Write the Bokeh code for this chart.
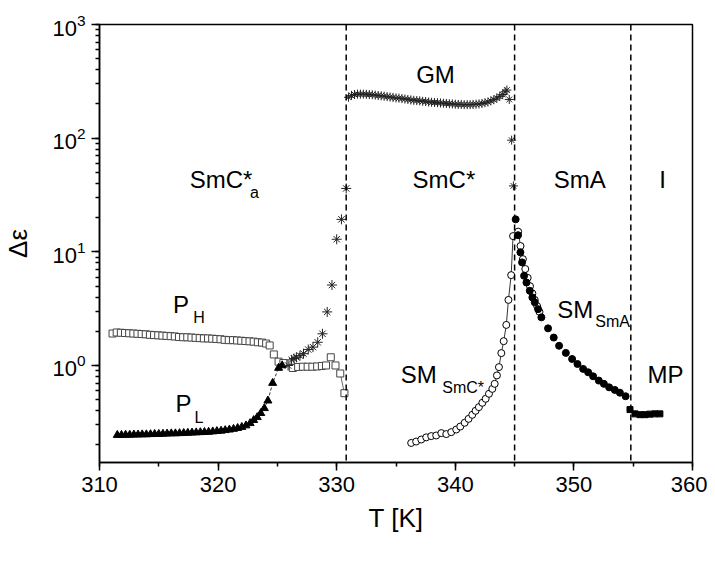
from bokeh.plotting import figure
from bokeh.models import Span, Label, SingleIntervalTicker, LogTicker
from bokeh.embed import file_html
from bokeh.resources import INLINE

# ---------------- data ----------------
# P_H mode (open squares)
ph_T = [311.1, 311.45, 311.8, 312.15, 312.5, 312.85, 313.2, 313.55, 313.9, 314.25,
        314.6, 314.95, 315.3, 315.65, 316.0, 316.35, 316.7, 317.05, 317.4, 317.75,
        318.1, 318.45, 318.8, 319.15, 319.5, 319.85, 320.2, 320.55, 320.9, 321.25,
        321.6, 321.95, 322.3, 322.65, 323.0, 323.35, 323.7, 324.05, 324.35,
        324.7, 325.1, 325.5, 326.3, 326.75, 327.15, 327.55, 327.95, 328.35, 328.75,
        329.1, 329.5, 329.9, 330.3, 330.65]
ph_v = [1.91, 1.95, 1.94, 1.93, 1.92, 1.91, 1.90, 1.89, 1.88, 1.86,
        1.85, 1.84, 1.83, 1.82, 1.81, 1.80, 1.78, 1.77, 1.77, 1.76,
        1.75, 1.74, 1.73, 1.73, 1.72, 1.71, 1.70, 1.68, 1.67, 1.67,
        1.66, 1.65, 1.64, 1.63, 1.62, 1.60, 1.59, 1.56, 1.50,
        1.25, 1.08, 1.05, 0.95, 0.97, 0.975, 0.975, 0.975, 0.98, 0.99,
        1.0, 1.18, 1.0, 0.85, 0.57]

# P_L mode (filled triangles)
pl_T = [311.5, 311.85, 312.2, 312.55, 312.9, 313.25, 313.6, 313.95, 314.3, 314.65,
        315.0, 315.35, 315.7, 316.05, 316.4, 316.75, 317.1, 317.45, 317.8, 318.15,
        318.5, 318.85, 319.2, 319.55, 319.9, 320.25, 320.6, 320.95, 321.3, 321.65,
        322.0, 322.35, 322.7, 323.0, 323.3, 323.6, 323.9, 324.2, 324.6, 325.1, 325.4]
pl_v = [0.244, 0.244, 0.245, 0.245, 0.246, 0.246, 0.247, 0.247, 0.248, 0.249,
        0.249, 0.250, 0.251, 0.252, 0.252, 0.253, 0.254, 0.255, 0.256, 0.257,
        0.258, 0.259, 0.260, 0.262, 0.264, 0.266, 0.269, 0.272, 0.276, 0.281,
        0.287, 0.296, 0.310, 0.330, 0.350, 0.380, 0.420, 0.490, 0.700, 0.950, 1.000]

# mode rising towards the SmC*a -> SmC* transition (stars)
sa_T = [325.9, 326.2, 326.4, 326.6, 326.9, 327.2, 327.6, 328.0, 328.4, 328.8,
        329.2, 329.6, 330.0, 330.4, 330.8]
sa_v = [1.00, 1.12, 1.15, 1.18, 1.22, 1.27, 1.38, 1.45, 1.60, 1.90,
        2.96, 5.1, 12.9, 19.3, 36.1]

# Goldstone mode in SmC* (stars)
gm_T = [331.0, 331.25, 331.5, 331.75, 332.0, 332.25, 332.5, 332.75, 333.0, 333.25,
        333.5, 333.75, 334.0, 334.25, 334.5, 334.75, 335.0, 335.25, 335.5, 335.75,
        336.0, 336.25, 336.5, 336.75, 337.0, 337.25, 337.5, 337.75, 338.0, 338.25,
        338.5, 338.75, 339.0, 339.25, 339.5, 339.75, 340.0, 340.25, 340.5, 340.75,
        341.0, 341.25, 341.5, 341.75, 342.0, 342.25, 342.5, 342.75, 343.0, 343.25,
        343.5, 343.75, 344.0, 344.2, 344.35, 344.55, 344.75, 344.9]
gm_v = [229, 238, 242, 244, 244, 244, 243, 242, 241, 239,
        237, 236, 234, 232, 230, 228, 226, 225, 223, 221,
        219, 217, 215, 214, 213, 211, 210, 208, 207, 206,
        205, 204, 203, 202, 201, 200, 199, 198, 198, 197,
        197, 197, 198, 199, 200, 202, 205, 208, 213, 218,
        225, 233, 242, 256, 265, 219, 96, 38]

# soft mode in SmC* (open circles)
sc_T = [336.28, 336.70, 337.13, 337.55, 337.97, 338.39, 338.82, 339.24, 339.66, 340.08,
        340.42, 340.79, 341.12, 341.43, 341.71, 341.99, 342.28, 342.56, 342.84, 343.12,
        343.32, 343.51, 343.68, 343.88, 344.08, 344.30, 344.48, 344.71, 344.87]
sc_v = [0.208, 0.214, 0.223, 0.233, 0.239, 0.242, 0.254, 0.249, 0.259, 0.273,
        0.290, 0.313, 0.339, 0.368, 0.399, 0.430, 0.469, 0.509, 0.563, 0.622,
        0.689, 0.817, 0.967, 1.284, 1.636, 2.273, 3.773, 6.234, 13.75]

# soft mode just above the transition, open-circle run (partly hidden)
sao_T = [345.3, 345.5, 345.7, 345.9, 346.1, 346.3, 346.5, 346.7, 346.9, 347.1]
sao_v = [15.05, 11.24, 8.62, 7.06, 5.90, 4.98, 4.30, 3.77, 3.33, 2.96]

# soft mode in SmA (filled circles)
sm_T = [345.09, 345.29, 345.49, 345.63, 345.80, 346.00, 346.28, 346.50, 346.70, 346.98,
        347.26, 347.82, 348.30, 348.75, 349.32, 349.85, 350.30, 350.78, 351.20, 351.62,
        352.10, 352.53, 352.97, 353.45, 353.88, 354.36]
sm_v = [19.3, 14.0, 9.89, 8.07, 6.15, 5.37, 4.54, 3.97, 3.59, 3.13,
        2.65, 2.12, 1.76, 1.49, 1.29, 1.14, 1.03, 0.933, 0.871, 0.803,
        0.736, 0.689, 0.642, 0.609, 0.576, 0.536]

# MP in isotropic phase (filled squares)
mp_T = [354.73, 355.15, 355.57, 355.99, 356.4, 356.83, 357.25]
mp_v = [0.409, 0.375, 0.369, 0.369, 0.373, 0.375, 0.375]

# phase transition temperatures
transitions = [330.8, 345.0, 354.8]

# ---------------- figure ----------------
FONT = "Liberation Sans"

p = figure(width=707, height=546, x_range=(310, 360), y_range=(0.14, 1000),
           y_axis_type="log", output_backend="svg", toolbar_location=None,
           min_border_left=98, min_border_right=15, min_border_top=24,
           min_border_bottom=84)

p.xgrid.visible = False
p.ygrid.visible = False
p.outline_line_color = "black"
p.outline_line_width = 1.5
p.outline_line_alpha = 1.0

p.xaxis.ticker = SingleIntervalTicker(interval=10, num_minor_ticks=2)
p.yaxis.ticker = LogTicker(num_minor_ticks=10)

for ax in (p.xaxis[0], p.yaxis[0]):
    ax.axis_line_width = 1.5
    ax.axis_line_color = "black"
    ax.major_tick_line_width = 1.5
    ax.minor_tick_line_width = 1.5
    ax.major_tick_in = 0
    ax.major_tick_out = 8
    ax.minor_tick_in = 0
    ax.minor_tick_out = 4
    ax.major_label_text_font = FONT
    ax.major_label_text_font_size = "22px"
    ax.major_label_text_color = "black"
    ax.axis_label_text_font = FONT
    ax.axis_label_text_font_size = "26px"
    ax.axis_label_text_font_style = "normal"
    ax.axis_label_text_color = "black"

p.xaxis.axis_label = "T [K]"
p.yaxis.axis_label = "Δε"
p.xaxis.major_label_standoff = 6
p.xaxis.axis_label_standoff = 8
p.yaxis.major_label_standoff = 6
p.yaxis.axis_label_standoff = 16

for t in transitions:
    p.add_layout(Span(location=t, dimension="height", line_color="black",
                      line_dash="6 4", line_width=1.5))

# P_H
p.line(ph_T[-4:], ph_v[-4:], line_color="#444444", line_width=0.8)
p.scatter(ph_T, ph_v, marker="square", size=7, fill_color="white",
          line_color="#444444", line_width=1)
# P_L
p.line(pl_T[-6:], pl_v[-6:], line_color="black", line_width=0.8, line_dash="3 2")
p.scatter(pl_T, pl_v, marker="triangle", size=8, fill_color="black",
          line_color="black")
# stars
p.scatter(sa_T, sa_v, marker="cross", size=10, line_color="#222222", line_width=1)
p.scatter(sa_T, sa_v, marker="x", size=9, line_color="#222222", line_width=1)
p.scatter(gm_T, gm_v, marker="cross", size=9, line_color="#222222", line_width=1)
p.scatter(gm_T, gm_v, marker="x", size=8, line_color="#222222", line_width=1)
# soft mode SmC* open circles with line
p.line(sc_T + sao_T, sc_v + sao_v, line_color="black", line_width=0.8)
p.scatter(sc_T, sc_v, marker="circle", size=7, fill_color="white",
          line_color="black", line_width=1)
p.scatter(sao_T, sao_v, marker="circle", size=7, fill_color="white",
          line_color="black", line_width=1)
# soft mode SmA filled
p.scatter(sm_T, sm_v, marker="circle", size=7, fill_color="black",
          line_color="black")
# MP
p.line(mp_T, mp_v, line_color="black", line_width=2.5)
p.scatter(mp_T, mp_v, marker="square", size=6, fill_color="black",
          line_color="black")

# ---------------- annotations ----------------
def lab(x, y, text, size="24px"):
    p.add_layout(Label(x=x, y=y, text=text, text_font=FONT, text_font_size=size,
                       text_baseline="middle", text_align="left",
                       text_color="black"))

lab(317.6, 43, "SmC*")
lab(322.7, 33, "a", "16px")
lab(336.4, 43, "SmC*")
lab(348.3, 43, "SmA")
lab(357.2, 43, "I")
lab(336.7, 362, "GM")
lab(316.2, 3.41, "P")
lab(317.9, 2.62, "H", "16px")
lab(316.4, 0.467, "P")
lab(318.0, 0.345, "L", "16px")
lab(335.4, 0.825, "SM")
lab(338.9, 0.634, "SmC*", "16px")
lab(348.6, 3.08, "SM")
lab(351.8, 2.42, "SmA", "16px")
lab(356.2, 0.825, "MP")

open("out.html", "w").write(file_html(p, INLINE))
